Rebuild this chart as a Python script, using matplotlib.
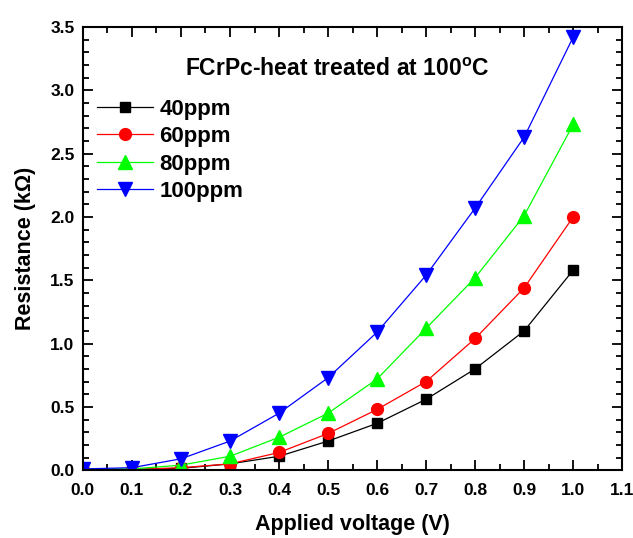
import matplotlib
matplotlib.use("Agg")
import matplotlib.pyplot as plt
from matplotlib.ticker import MultipleLocator

plt.rcParams["font.family"] = ["Liberation Sans", "DejaVu Sans"]
plt.rcParams["font.weight"] = "bold"

# applied voltage (V) and resistance (kOhm) for each concentration
voltage = [0.0, 0.1, 0.2, 0.3, 0.4, 0.5, 0.6, 0.7, 0.8, 0.9, 1.0]
r_40ppm = [0.0, 0.005, 0.015, 0.05, 0.11, 0.23, 0.37, 0.56, 0.80, 1.10, 1.58]
r_60ppm = [0.0, 0.005, 0.02, 0.05, 0.14, 0.29, 0.48, 0.70, 1.04, 1.44, 2.00]
r_80ppm = [0.01, 0.01, 0.04, 0.11, 0.26, 0.45, 0.72, 1.12, 1.52, 2.01, 2.73]
r_100ppm = [0.01, 0.02, 0.09, 0.23, 0.45, 0.73, 1.09, 1.54, 2.07, 2.63, 3.42]

series = [
    ("40ppm", r_40ppm, "black", "s", 7.5),
    ("60ppm", r_60ppm, "red", "o", 8.5),
    ("80ppm", r_80ppm, "#00ff00", "^", 9.5),
    ("100ppm", r_100ppm, "blue", "v", 9.5),
]

fig = plt.figure(figsize=(6.33, 5.38), dpi=100)
ax = fig.add_axes([0.131, 0.126, 0.852, 0.824])

for label, r, color, marker, ms in series:
    ax.plot(voltage, r, color=color, lw=0.9, marker=marker, ms=ms,
            mec=color, mfc=color, label=label)

ax.set_xlim(0, 1.1)
ax.set_ylim(0, 3.5)
ax.xaxis.set_major_locator(MultipleLocator(0.1))
ax.xaxis.set_minor_locator(MultipleLocator(0.05))
ax.yaxis.set_major_locator(MultipleLocator(0.5))
ax.yaxis.set_minor_locator(MultipleLocator(0.1))
ax.xaxis.set_major_formatter(plt.FormatStrFormatter("%.1f"))
ax.yaxis.set_major_formatter(plt.FormatStrFormatter("%.1f"))

ax.tick_params(which="both", direction="in", top=True, right=True, width=1.3)
ax.tick_params(which="major", length=7, labelsize=12.5)
ax.tick_params(axis="x", which="major", pad=9)
ax.tick_params(axis="y", which="major", pad=6)
ax.tick_params(which="minor", length=4)
for s in ax.spines.values():
    s.set_linewidth(1.5)

ax.set_xlabel("Applied voltage (V)", fontsize=15.5, fontweight="bold", labelpad=12)
ax.set_ylabel("Resistance (k\u03a9)", fontsize=15.5, fontweight="bold", labelpad=10)

ax.text(0.471, 0.903, "FCrPc-heat treated at 100$^\\mathregular{o}$C",
        transform=ax.transAxes, ha="center", va="center",
        fontsize=16.5, fontweight="bold")

ax.legend(loc="upper left", bbox_to_anchor=(0.026, 0.838), frameon=False,
          borderpad=0, borderaxespad=0, handlelength=2.5, handletextpad=0.3,
          labelspacing=0.29, prop={"size": 16, "weight": "bold"})

fig.savefig("out.png", dpi=100)
